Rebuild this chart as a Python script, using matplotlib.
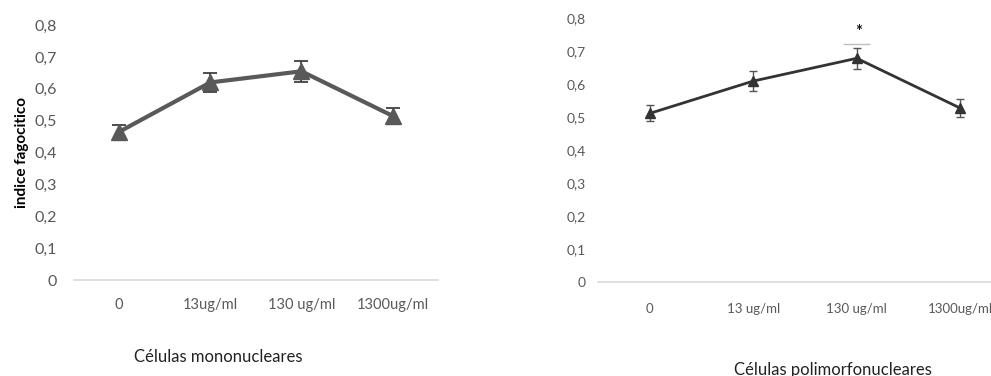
import matplotlib.pyplot as plt

plt.rcParams['font.family'] = ['Lato', 'DejaVu Sans']

categories_mono = ['0', '13ug/ml', '130 ug/ml', '1300ug/ml']
mono_values = [0.465, 0.62, 0.655, 0.515]
mono_err = [0.022, 0.03, 0.033, 0.025]

categories_poli = ['0', '13 ug/ml', '130 ug/ml', '1300ug/ml']
poli_values = [0.511, 0.609, 0.678, 0.527]
poli_err = [0.024, 0.03, 0.032, 0.028]

yticks = [0, 0.1, 0.2, 0.3, 0.4, 0.5, 0.6, 0.7, 0.8]
ytick_labels = ['0', '0,1', '0,2', '0,3', '0,4', '0,5', '0,6', '0,7', '0,8']

fig = plt.figure(figsize=(9.91, 3.76), dpi=100)
ax1 = fig.add_axes([0.0742, 0.2553, 0.368, 0.678])
ax2 = fig.add_axes([0.6034, 0.25, 0.4178, 0.702])


def style(ax, labels, fs_x, pad_x):
    ax.set_xlim(-0.5, len(labels) - 0.5)
    ax.set_ylim(0, 0.8)
    ax.set_yticks(yticks)
    ax.set_yticklabels(ytick_labels)
    ax.set_xticks(range(len(labels)))
    ax.set_xticklabels(labels)
    for s in ['top', 'right', 'left']:
        ax.spines[s].set_visible(False)
    ax.spines['bottom'].set_color('#d9d9d9')
    ax.spines['bottom'].set_linewidth(1.2)
    ax.tick_params(axis='both', length=0, colors='#595959')
    ax.tick_params(axis='x', labelsize=fs_x, pad=pad_x)
    ax.patch.set_alpha(0)


x1 = range(len(categories_mono))
ax1.errorbar(x1, mono_values, yerr=mono_err, color='#595959', lw=3,
             marker='^', ms=11, capsize=5, elinewidth=1.3, capthick=1.3,
             ecolor='#404040')
style(ax1, categories_mono, 10.5, 13)
ax1.tick_params(axis='y', labelsize=11.5, pad=12)
ax1.set_ylabel('indice fagocitico', fontsize=11, fontweight='bold', labelpad=4)

x2 = range(len(categories_poli))
ax2.errorbar(x2, poli_values, yerr=poli_err, color='#333333', lw=2,
             marker='^', ms=7, capsize=3, elinewidth=1, capthick=1,
             ecolor='#555555')
# significance marker above 130 ug/ml
ax2.hlines(0.72, 1.87, 2.13, color='#bfbfbf', lw=1)
ax2.text(2.02, 0.758, '*', ha='center', va='center', fontsize=12,
         fontweight='bold', color='#111111')
style(ax2, categories_poli, 9.5, 15)
ax2.tick_params(axis='y', labelsize=10, pad=9)

fig.text(0.22, 0.05, 'Células mononucleares', ha='center', va='center',
         fontsize=12, color='#222222')
fig.text(0.84, 0.017, 'Células polimorfonucleares', ha='center', va='center',
         fontsize=12, color='#222222')

fig.savefig('out.png', dpi=100)
